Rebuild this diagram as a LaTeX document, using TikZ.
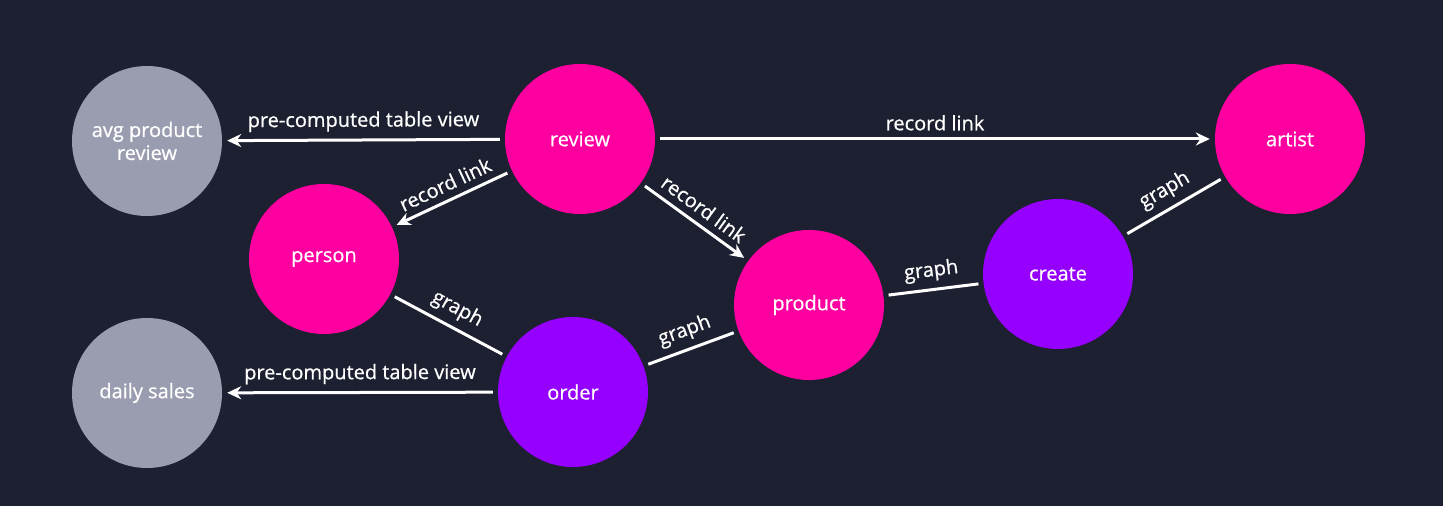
\documentclass[tikz,border=0pt]{standalone}
\usepackage{fontspec}
\setmainfont{Open Sans}[FakeBold=0.6]
\usetikzlibrary{arrows.meta}

\definecolor{bgdark}{HTML}{1C2030}
\definecolor{tablegray}{HTML}{9A9DB0}
\definecolor{recpink}{HTML}{FF00A0}
\definecolor{edgepurple}{HTML}{9600FF}

\begin{document}
\begin{tikzpicture}[x=0.5pt,y=-0.5pt]
        \tikzstyle{every node}+=[font=\fontsize{10}{11.5}\selectfont, text=white]
        \tikzstyle{entity}=[circle, minimum size=75pt, inner sep=0pt, outer sep=2.6pt, align=center]
        \tikzstyle{link}=[white, line width=1.5pt]
        \tikzstyle{tip}=[-{Stealth[length=7pt,width=6.5pt]}]
        \tikzstyle{lbl}=[sloped, above=2.5pt, inner sep=1pt]
        \fill [bgdark] (0,0) rectangle (1443,506);
        \useasboundingbox (0,0) rectangle (1443,506);
        \node [entity, fill=tablegray] (avg) at (147,141) {avg product\\review};
        \node [entity, fill=recpink] (review) at (580,139) {review};
        \node [entity, fill=recpink] (artist) at (1290,139) {artist};
        \node [entity, fill=recpink] (person) at (324,259) {person};
        \node [entity, fill=recpink] (product) at (809,305) {product};
        \node [entity, fill=edgepurple] (create) at (1058,274) {create};
        \node [entity, fill=tablegray] (daily) at (147,393) {daily sales};
        \node [entity, fill=edgepurple] (order) at (573,392) {order};
        \draw [link, tip] (review) -- node [lbl] {pre-computed table view} (avg);
        \draw [link, tip] (review) -- node [lbl] {record link} (artist);
        \draw [link, tip] (review) -- node [lbl] {record link} (person);
        \draw [link, tip] (review) -- node [lbl] {record link} (product);
        \draw [link] (person) -- node [lbl] {graph} (order);
        \draw [link] (order) -- node [lbl] {graph} (product);
        \draw [link] (product) -- node [lbl] {graph} (create);
        \draw [link] (create) -- node [lbl] {graph} (artist);
        \draw [link, tip] (order) -- node [lbl] {pre-computed table view} (daily);
\end{tikzpicture}
\end{document}
